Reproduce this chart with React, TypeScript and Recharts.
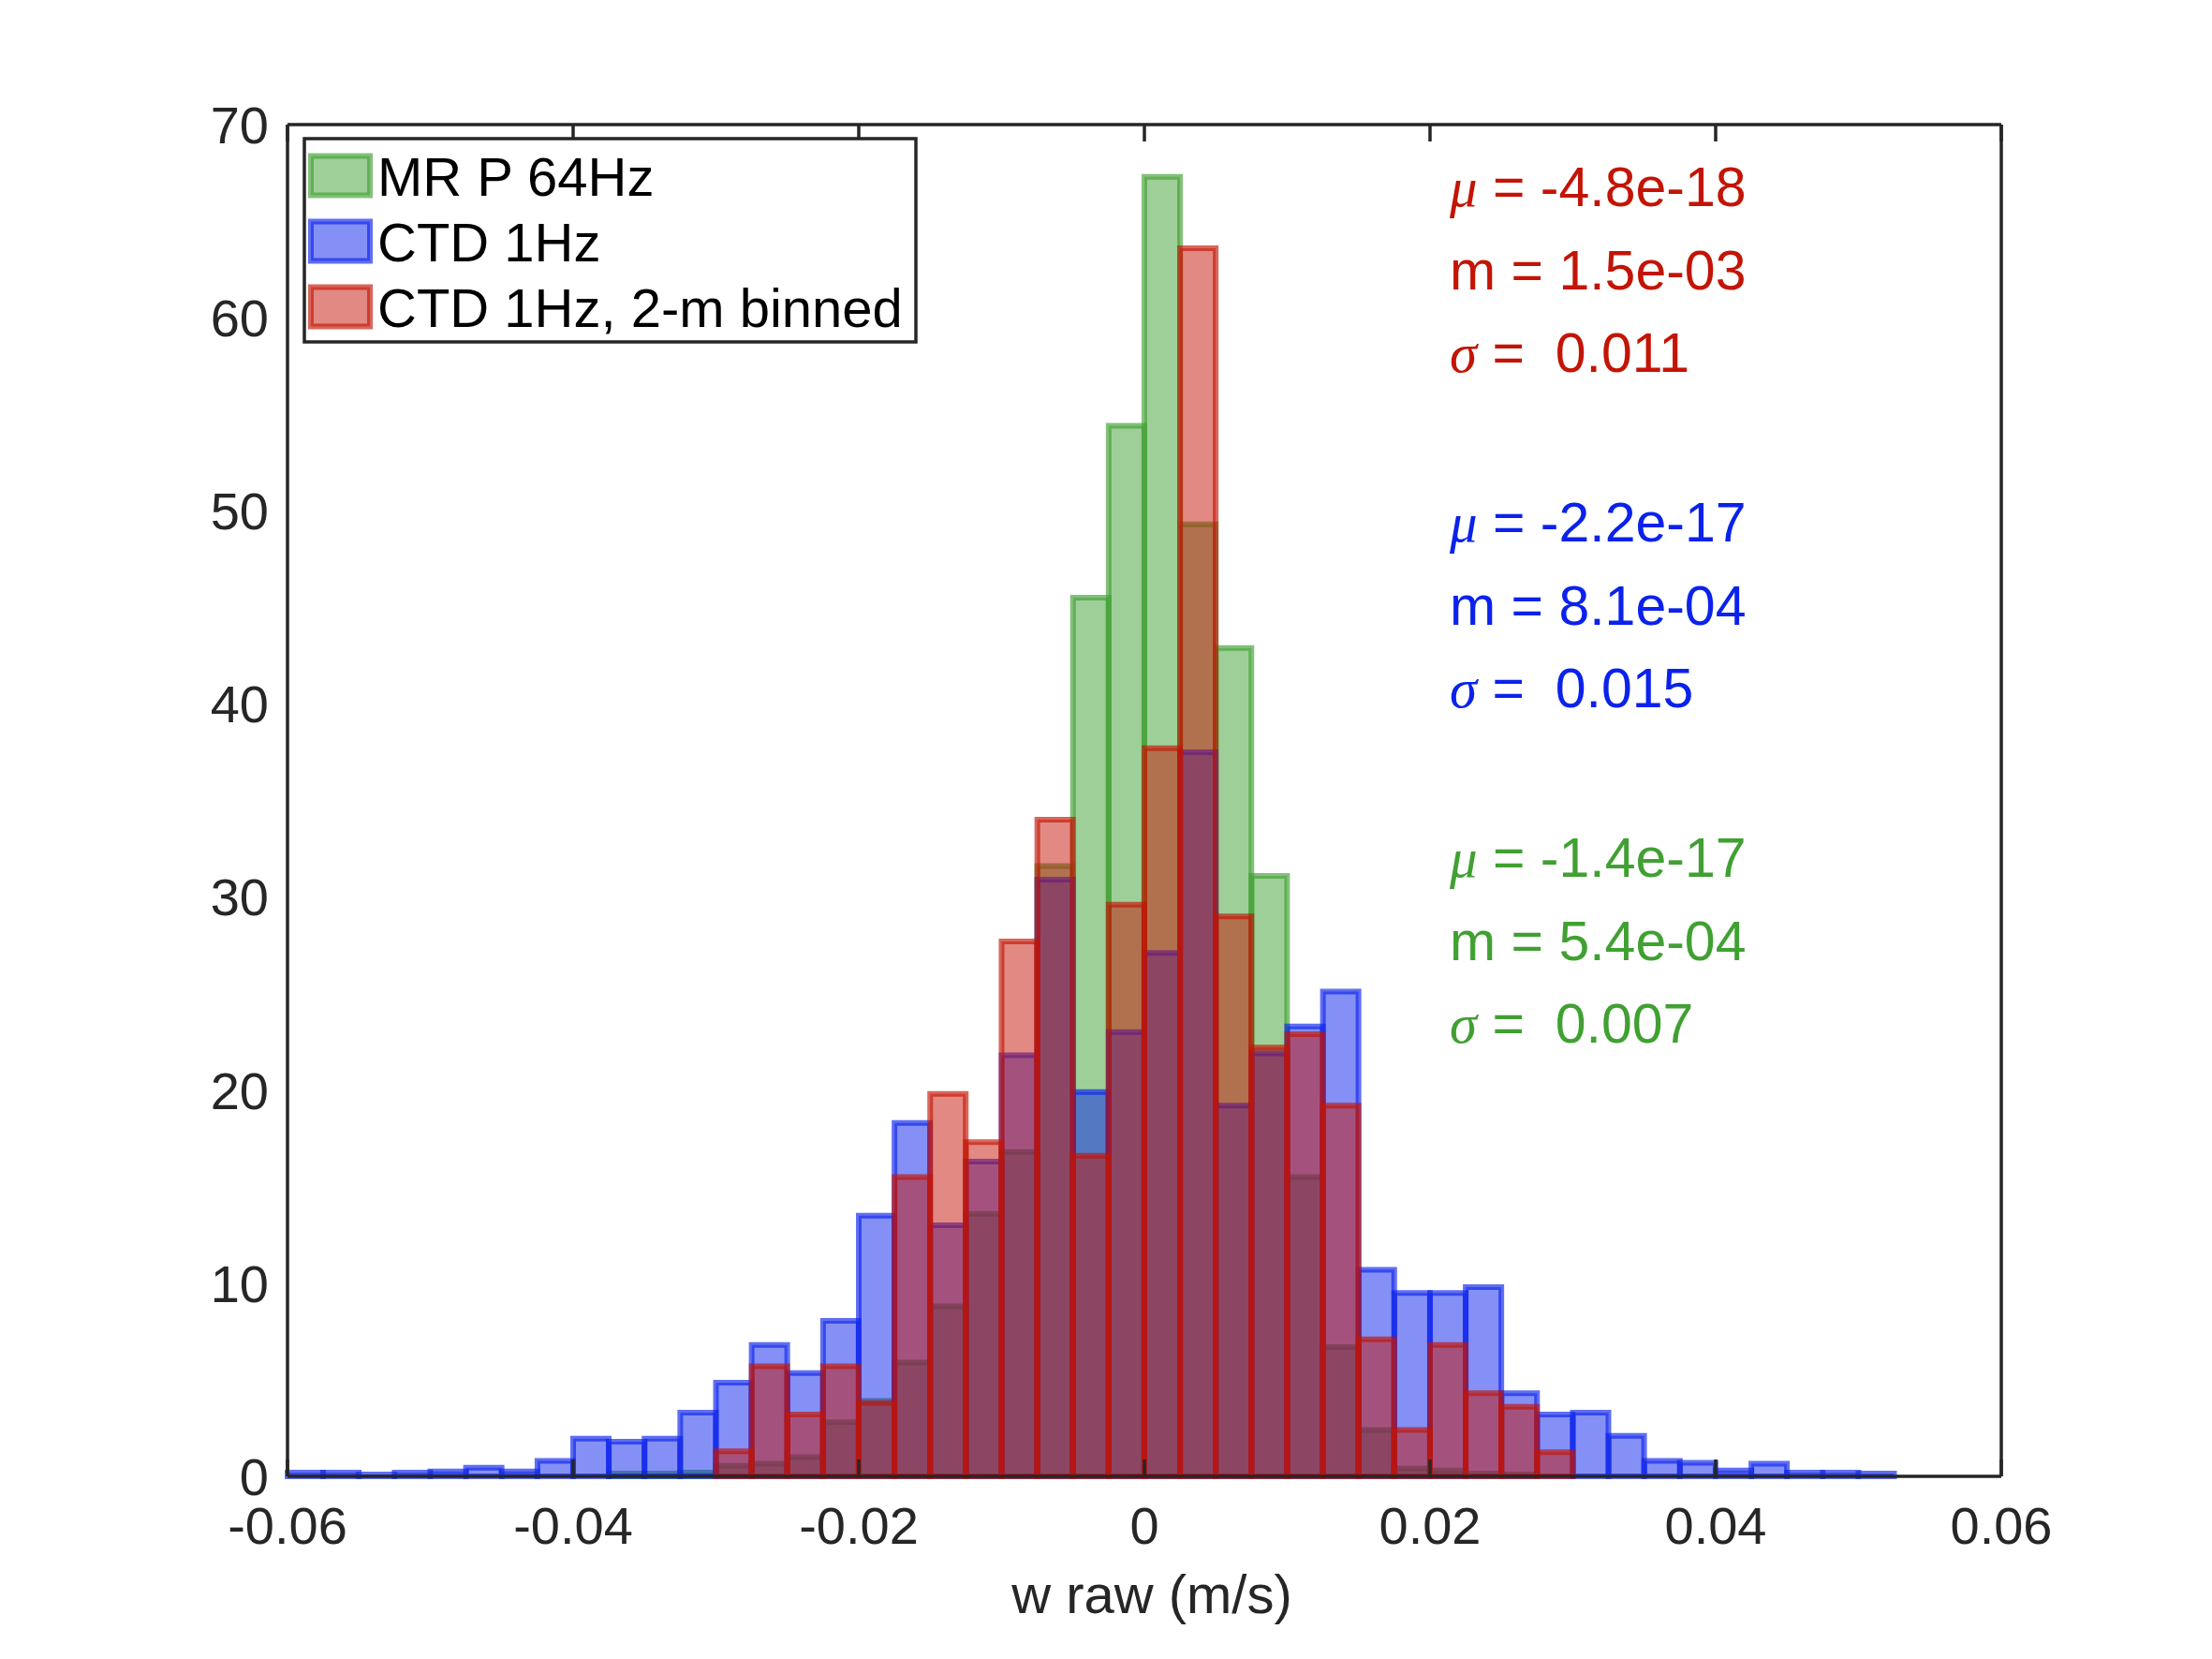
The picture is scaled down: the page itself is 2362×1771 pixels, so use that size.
import React from 'react';
import { BarChart, Bar, XAxis, YAxis } from 'recharts';

// bin centres, 0.0025 m/s wide bins
const binCenters = [
  -0.05875, -0.05625, -0.05375, -0.05125, -0.04875, -0.04625, -0.04375, -0.04125,
  -0.03875, -0.03625, -0.03375, -0.03125, -0.02875, -0.02625, -0.02375, -0.02125,
  -0.01875, -0.01625, -0.01375, -0.01125, -0.00875, -0.00625, -0.00375, -0.00125,
  0.00125, 0.00375, 0.00625, 0.00875, 0.01125, 0.01375, 0.01625, 0.01875,
  0.02125, 0.02375, 0.02625, 0.02875, 0.03125, 0.03375, 0.03625, 0.03875,
  0.04125, 0.04375, 0.04625, 0.04875, 0.05125, 0.05375, 0.05625, 0.05875,
];

const mrp64 = [
  null, null, null, null, null, null, null, null,
  null, 0.15, 0.15, 0.2, 0.55, 0.65, 1.0, 2.8,
  3.9, 5.9, 8.8, 13.6, 16.8, 31.6, 45.5, 54.4,
  67.3, 49.3, 42.9, 31.1, 15.5, 6.7, 2.4, 0.4,
  0.3, 0.15, 0.1, null, null, null, null, null,
  null, null, null, null, null, null, null, null,
];

const ctd1hz = [
  0.2, 0.2, 0.1, 0.2, 0.25, 0.45, 0.25, 0.8,
  1.95, 1.8, 1.95, 3.3, 4.85, 6.8, 5.35, 8.05,
  13.5, 18.3, 13.0, 16.3, 21.8, 30.9, 19.9, 23.0,
  27.1, 37.5, 19.2, 21.9, 23.3, 25.1, 10.7, 9.5,
  9.5, 9.8, 4.3, 3.2, 3.3, 2.1, 0.8, 0.7,
  0.3, 0.65, 0.2, 0.2, 0.15, null, null, null,
];

const ctdBinned = [
  null, null, null, null, null, null, null, null,
  null, null, null, null, 1.3, 5.7, 3.2, 5.7,
  3.8, 15.5, 19.8, 17.3, 27.7, 34.0, 16.6, 29.6,
  37.7, 63.6, 29.0, 22.2, 22.9, 19.2, 7.1, 2.4,
  6.8, 4.3, 3.6, 1.25, null, null, null, null,
  null, null, null, null, null, null, null, null,
];

const xTicks = [-0.06, -0.04, -0.02, 0, 0.02, 0.04, 0.06];
const yTicks = [0, 10, 20, 30, 40, 50, 60, 70];

const seriesNames = ['MR P 64Hz', 'CTD 1Hz', 'CTD 1Hz, 2-m binned'];

const stats = [
  { mu: '-4.8e-18', m: '1.5e-03', sigma: '0.011' },
  { mu: '-2.2e-17', m: '8.1e-04', sigma: '0.015' },
  { mu: '-1.4e-17', m: '5.4e-04', sigma: '0.007' },
];

const GREEN = '#40a032';
const BLUE = '#0a22eb';
const RED = '#c31405';
const INK = '#262626';
const FONT = '"Liberation Sans", Arial, sans-serif';

const W = 2362;
const H = 1771;

const data = binCenters.map((x, i) => ({
  x,
  green: mrp64[i],
  blue: ctd1hz[i],
  red: ctdBinned[i],
}));

const barStyle = (c: string) => ({
  fill: c,
  fillOpacity: 0.5,
  stroke: c,
  strokeOpacity: 0.65,
  strokeWidth: 6,
});

// tick lines only, no label
const NoLabel = () => <g />;

function Overlay() {
  const legendRows = [
    { name: seriesNames[0], color: GREEN },
    { name: seriesNames[1], color: BLUE },
    { name: seriesNames[2], color: RED },
  ];
  const statColors = [RED, BLUE, GREEN];
  const greek = { fontFamily: '"Liberation Serif", serif', fontStyle: 'italic' as const };
  return (
    <svg
      width={W}
      height={H}
      style={{ position: 'absolute', left: 0, top: 0, pointerEvents: 'none' }}
    >
      {/* legend */}
      <rect x={325} y={148} width={653} height={217} fill="#fff" stroke={INK} strokeWidth={3.5} />
      {legendRows.map((r, i) => {
        const cy = 187.5 + i * 70;
        return (
          <g key={r.name}>
            <rect
              x={332}
              y={cy - 21}
              width={63}
              height={42}
              fill={r.color}
              fillOpacity={0.5}
              stroke={r.color}
              strokeOpacity={0.65}
              strokeWidth={6}
            />
            <text x={403} y={cy + 21} fontSize={58} fontFamily={FONT} fill="#000">
              {r.name}
            </text>
          </g>
        );
      })}

      {/* statistics */}
      {stats.map((s, g) => {
        const y0 = 220 + g * 358;
        const c = statColors[g];
        return (
          <g key={g} fill={c} fontSize={59} fontFamily={FONT}>
            <text x={1548} y={y0}>
              <tspan {...greek}>μ</tspan>
              {' = ' + s.mu}
            </text>
            <text x={1548} y={y0 + 89}>{'m = ' + s.m}</text>
            <text x={1548} y={y0 + 177}>
              <tspan {...greek}>σ</tspan>
              {' =\u00a0\u00a0' + s.sigma}
            </text>
          </g>
        );
      })}

      {/* x label */}
      <text x={1230} y={1722} textAnchor="middle" fontSize={58} fontFamily={FONT} fill={INK}>
        w raw (m/s)
      </text>
    </svg>
  );
}

export default function App() {
  const tickFont = { fill: INK, fontSize: 56, fontFamily: FONT };
  const line = { stroke: INK, strokeWidth: 3.5 };
  const xDomain: [number, number] = [-0.06, 0.06];
  const yDomain: [number, number] = [0, 70];
  return (
    <div style={{ position: 'absolute', left: 0, top: 0, width: W, height: H, background: '#fff' }}>
      <BarChart
        width={W}
        height={H}
        data={data}
        margin={{ top: 133, right: 225, bottom: 95, left: 207 }}
        barCategoryGap={0}
        barGap={0}
      >
        <XAxis
          xAxisId="lab"
          type="number"
          dataKey="x"
          domain={xDomain}
          ticks={xTicks}
          interval={0}
          height={100}
          tickLine={false}
          tickSize={0}
          tickMargin={32}
          axisLine={line}
          tick={tickFont}
        />
        <XAxis
          xAxisId="bm"
          type="number"
          dataKey="x"
          domain={xDomain}
          ticks={xTicks}
          interval={0}
          mirror
          tick={NoLabel}
          tickSize={18}
          tickLine={line}
          axisLine={false}
        />
        <XAxis
          xAxisId="top"
          orientation="top"
          type="number"
          dataKey="x"
          domain={xDomain}
          ticks={xTicks}
          interval={0}
          mirror
          tick={NoLabel}
          tickSize={18}
          tickLine={line}
          axisLine={line}
        />
        <XAxis xAxisId="g" type="number" dataKey="x" domain={xDomain} hide height={0} />
        <XAxis xAxisId="b" type="number" dataKey="x" domain={xDomain} hide height={0} />
        <XAxis xAxisId="r" type="number" dataKey="x" domain={xDomain} hide height={0} />

        <YAxis
          yAxisId="y"
          domain={yDomain}
          ticks={yTicks}
          interval={0}
          width={100}
          tickLine={false}
          tickSize={0}
          tickMargin={20}
          axisLine={line}
          tick={tickFont}
        />
        <YAxis
          yAxisId="ym"
          domain={yDomain}
          ticks={yTicks}
          interval={0}
          mirror
          tick={NoLabel}
          tickSize={18}
          tickLine={line}
          axisLine={false}
        />
        <YAxis
          yAxisId="yr"
          orientation="right"
          domain={yDomain}
          ticks={yTicks}
          interval={0}
          mirror
          tick={NoLabel}
          tickSize={18}
          tickLine={line}
          axisLine={line}
        />

        <Bar xAxisId="g" yAxisId="y" dataKey="green" name={seriesNames[0]} {...barStyle(GREEN)} isAnimationActive={false} />
        <Bar xAxisId="b" yAxisId="y" dataKey="blue" name={seriesNames[1]} {...barStyle(BLUE)} isAnimationActive={false} />
        <Bar xAxisId="r" yAxisId="y" dataKey="red" name={seriesNames[2]} {...barStyle(RED)} isAnimationActive={false} />
      </BarChart>
      <Overlay />
    </div>
  );
}
